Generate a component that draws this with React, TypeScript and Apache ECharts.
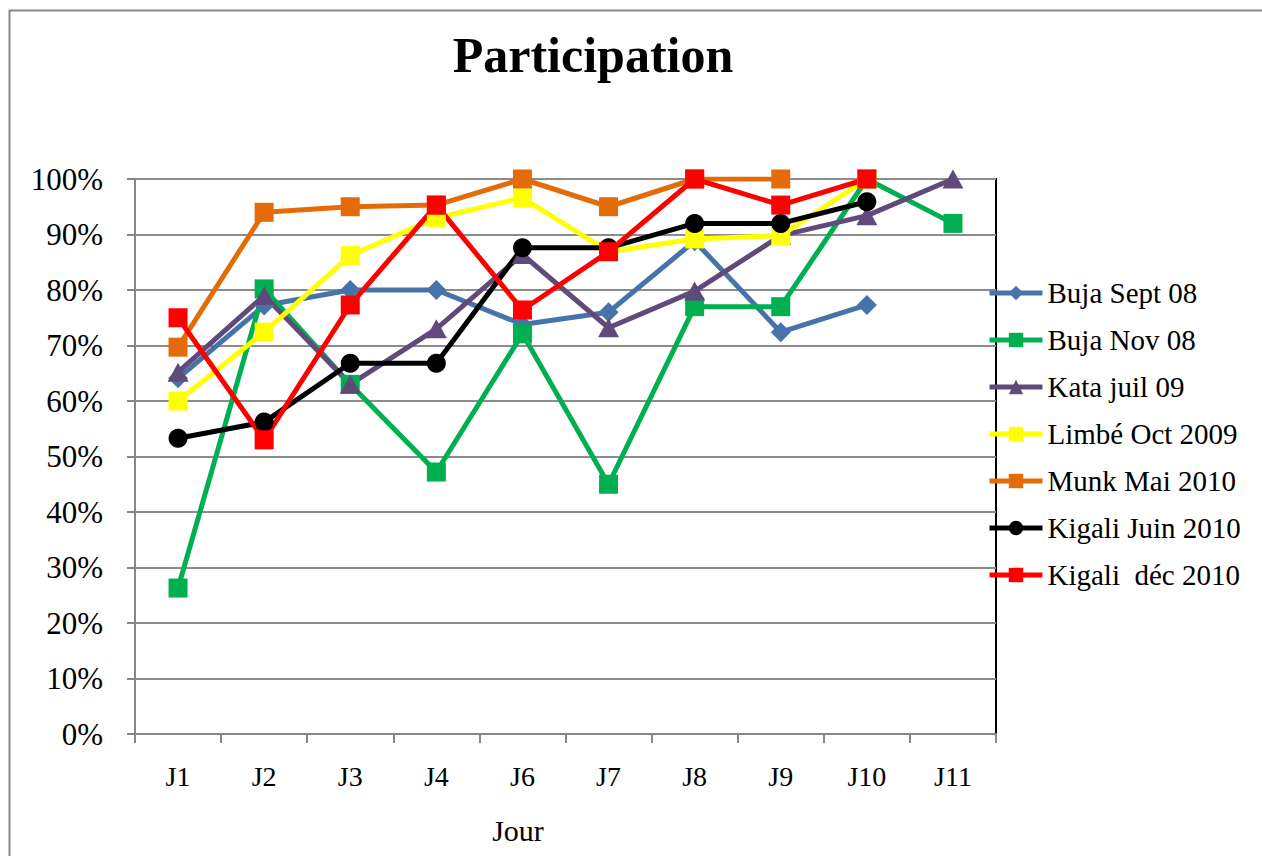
import React, { useEffect, useRef } from "react";
import * as echarts from "echarts";

const categories = ["J1", "J2", "J3", "J4", "J6", "J7", "J8", "J9", "J10", "J11"];
const yTicks = [0, 0.1, 0.2, 0.3, 0.4, 0.5, 0.6, 0.7, 0.8, 0.9, 1];

const bujaSept08 = [0.641, 0.772, 0.8, 0.8, 0.738, 0.76, 0.888, 0.724, 0.773, null];
const bujaNov08 = [0.263, 0.802, 0.63, 0.472, 0.721, 0.45, 0.77, 0.77, 1.0, 0.92];
const kataJuil09 = [0.652, 0.79, 0.63, 0.73, 0.864, 0.732, 0.798, 0.898, 0.934, 1.0];
const limbeOct2009 = [0.6, 0.724, 0.862, 0.93, 0.966, 0.869, 0.892, 0.898, 1.0, null];
const munkMai2010 = [0.697, 0.94, 0.95, 0.953, 1.0, 0.95, 1.0, 1.0, null, null];
const kigaliJuin2010 = [0.533, 0.562, 0.668, 0.668, 0.876, 0.876, 0.92, 0.92, 0.959, null];
const kigaliDec2010 = [0.75, 0.53, 0.773, 0.953, 0.764, 0.869, 1.0, 0.953, 1.0, null];

const seriesDefs = [
  { name: "Buja Sept 08", data: bujaSept08, color: "#4673AA", symbol: "diamond", size: [20, 20] },
  { name: "Buja Nov 08", data: bujaNov08, color: "#00B050", symbol: "rect", size: 19 },
  { name: "Kata juil 09", data: kataJuil09, color: "#604A7B", symbol: "triangle", size: [21, 19] },
  { name: "Limbé Oct 2009", data: limbeOct2009, color: "#FFFF00", symbol: "rect", size: 19 },
  { name: "Munk Mai 2010", data: munkMai2010, color: "#E36C09", symbol: "rect", size: 19 },
  { name: "Kigali Juin 2010", data: kigaliJuin2010, color: "#000000", symbol: "circle", size: 19 },
  { name: "Kigali  déc 2010", data: kigaliDec2010, color: "#FF0000", symbol: "rect", size: 19 },
];

const FONT = "Liberation Serif";
const FONT_TNR = "Times New Roman";

export default function App() {
  const ref = useRef<HTMLDivElement>(null);
  useEffect(() => {
    if (!ref.current) return;
    const chart = echarts.init(ref.current, null, { renderer: "svg" });
    chart.setOption({
      animation: false,
      backgroundColor: "#ffffff",
      textStyle: { fontFamily: FONT_TNR },
      title: {
        text: "Participation",
        left: 588,
        top: 25,
        textAlign: "center",
        textStyle: { fontFamily: FONT, fontSize: 50, fontWeight: "bold", color: "#000" },
      },
      graphic: [
        {
          type: "rect",
          shape: { x: 9.5, y: 10.5, width: 1400, height: 1000 },
          style: { fill: "none", stroke: "#878787", lineWidth: 2 },
          silent: true,
        },
        {
          type: "text",
          x: 518,
          y: 830,
          style: {
            text: "Jour",
            fontFamily: FONT,
            fontSize: 30,
            fill: "#000",
            align: "center",
            verticalAlign: "middle",
          },
        },
      ],
      legend: {
        orient: "vertical",
        left: 987,
        top: 278,
        padding: 0,
        itemWidth: 53,
        itemHeight: 18,
        itemGap: 17,
        lineStyle: { width: 5 },
        textStyle: { fontFamily: FONT_TNR, fontSize: 29, color: "#000", lineHeight: 30 },
        data: seriesDefs.map((s) => s.name),
      },
      grid: {
        left: 135,
        right: 266,
        top: 179,
        bottom: 122,
        show: true,
        borderColor: "#000",
        borderWidth: 2,
        containLabel: false,
      },
      xAxis: {
        type: "category",
        data: categories,
        boundaryGap: true,
        axisLine: { show: true, lineStyle: { color: "#878787", width: 2 } },
        axisTick: { show: true, interval: 0, length: 9, lineStyle: { color: "#878787", width: 2 } },
        axisLabel: { interval: 0, margin: 28, fontFamily: FONT, fontSize: 28, color: "#000" },
        splitLine: { show: false },
      },
      yAxis: {
        type: "value",
        min: 0,
        max: 1,
        interval: 0.1,
        axisLine: { show: true, lineStyle: { color: "#878787", width: 2 } },
        axisTick: { show: true, length: 8, lineStyle: { color: "#878787", width: 2 } },
        axisLabel: {
          margin: 32,
          fontFamily: FONT,
          fontSize: 31,
          color: "#000",
          formatter: (v: number) => Math.round(v * 100) + "%",
        },
        splitLine: { show: true, lineStyle: { color: "#8c8c8c", width: 2 } },
      },
      series: seriesDefs.map((s) => ({
        name: s.name,
        type: "line",
        data: s.data,
        symbol: s.symbol,
        symbolSize: s.size,
        showAllSymbol: true,
        connectNulls: false,
        lineStyle: { color: s.color, width: 5 },
        itemStyle: { color: s.color, borderWidth: 0 },
        emphasis: { disabled: true },
      })),
    });
    return () => chart.dispose();
  }, []);
  return (
    <div
      ref={ref}
      style={{ position: "absolute", left: 0, top: 0, width: 1262, height: 856 }}
    />
  );
}
